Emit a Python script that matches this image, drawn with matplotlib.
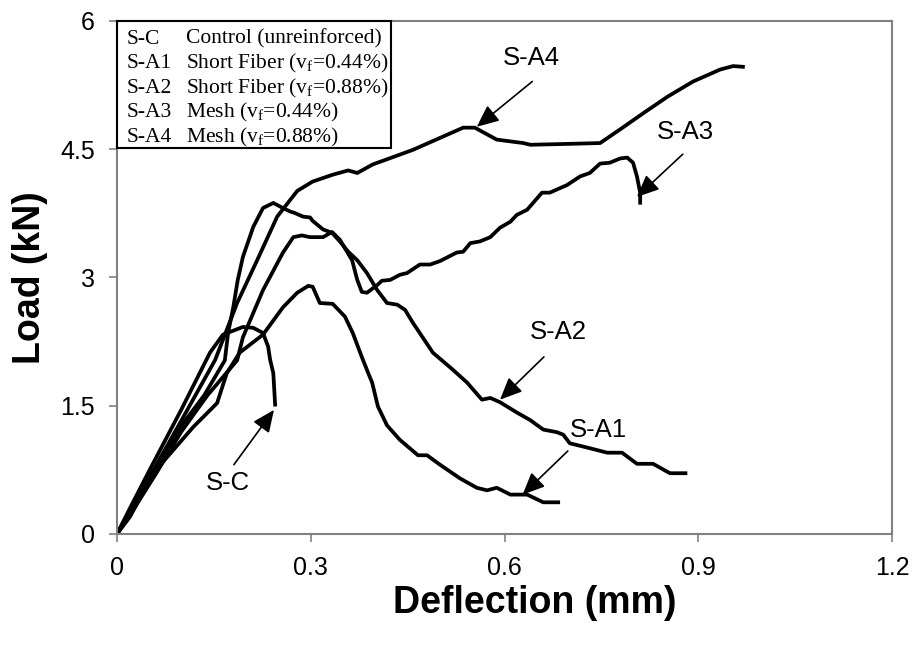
import numpy as np
from matplotlib import pyplot as plt
from matplotlib.patches import Rectangle

plt.rcParams['font.family'] = ['Liberation Sans', 'DejaVu Sans']
plt.rcParams['mathtext.fontset'] = 'custom'
plt.rcParams['mathtext.rm'] = 'Liberation Serif'

# ------ curves (deflection mm, load kN) ------
sc_x = [0, 0.02, 0.05, 0.10, 0.144, 0.164, 0.195, 0.211, 0.226, 0.234, 0.237, 0.242, 0.245]
sc_y = [0, 0.30, 0.74, 1.46, 2.12, 2.33, 2.42, 2.41, 2.35, 2.19, 2.04, 1.88, 1.49]

a1_x = [0, 0.02, 0.056, 0.118, 0.155, 0.170, 0.190, 0.226, 0.257, 0.279, 0.296, 0.303, 0.314,
        0.334, 0.353, 0.365, 0.379, 0.389, 0.395, 0.404, 0.418, 0.438, 0.466, 0.480, 0.500,
        0.531, 0.557, 0.573, 0.588, 0.609, 0.635, 0.660, 0.686]
a1_y = [0, 0.20, 0.71, 1.25, 1.53, 1.88, 2.12, 2.33, 2.65, 2.82, 2.90, 2.89, 2.70,
        2.69, 2.54, 2.35, 2.07, 1.88, 1.77, 1.49, 1.27, 1.10, 0.92, 0.92, 0.81,
        0.65, 0.54, 0.51, 0.54, 0.46, 0.46, 0.37, 0.37]

a2_x = [0, 0.02, 0.06, 0.10, 0.135, 0.167, 0.172, 0.180, 0.187, 0.195, 0.211, 0.226, 0.242,
        0.257, 0.268, 0.276, 0.288, 0.299, 0.303, 0.319, 0.333, 0.345, 0.358, 0.372, 0.387,
        0.403, 0.418, 0.434, 0.446, 0.458, 0.474, 0.489, 0.520, 0.542, 0.565, 0.578, 0.593,
        0.619, 0.640, 0.660, 0.681, 0.691, 0.701, 0.728, 0.759, 0.782, 0.805, 0.830, 0.856, 0.883]
a2_y = [0, 0.24, 0.74, 1.27, 1.62, 2.03, 2.35, 2.65, 2.97, 3.24, 3.59, 3.81, 3.87,
        3.81, 3.77, 3.75, 3.71, 3.70, 3.66, 3.56, 3.52, 3.42, 3.30, 3.20, 3.05,
        2.85, 2.70, 2.68, 2.62, 2.47, 2.29, 2.12, 1.92, 1.77, 1.57, 1.59, 1.54,
        1.42, 1.33, 1.22, 1.19, 1.16, 1.06, 1.01, 0.95, 0.95, 0.82, 0.82, 0.71, 0.71]

a3_x = [0, 0.02, 0.06, 0.10, 0.14, 0.186, 0.195, 0.226, 0.257, 0.273, 0.286, 0.299, 0.319,
        0.333, 0.345, 0.364, 0.372, 0.379, 0.387, 0.403, 0.410, 0.423, 0.438, 0.449, 0.469,
        0.485, 0.500, 0.526, 0.536, 0.547, 0.562, 0.578, 0.593, 0.609, 0.619, 0.635, 0.658,
        0.670, 0.697, 0.717, 0.732, 0.748, 0.763, 0.779, 0.790, 0.799, 0.805, 0.810, 0.810]
a3_y = [0, 0.22, 0.70, 1.20, 1.62, 2.03, 2.30, 2.85, 3.29, 3.47, 3.49, 3.47, 3.47,
        3.53, 3.44, 3.20, 2.97, 2.83, 2.82, 2.91, 2.96, 2.97, 3.03, 3.05, 3.15,
        3.15, 3.19, 3.29, 3.30, 3.40, 3.42, 3.47, 3.58, 3.65, 3.73, 3.79, 3.99,
        3.99, 4.08, 4.18, 4.22, 4.33, 4.34, 4.39, 4.40, 4.34, 4.18, 3.99, 3.85]

a4_x = [0, 0.02, 0.05, 0.10, 0.152, 0.186, 0.217, 0.248, 0.279, 0.303, 0.334, 0.358, 0.372,
        0.396, 0.458, 0.536, 0.554, 0.588, 0.629, 0.640, 0.697, 0.748, 0.779, 0.815, 0.852,
        0.892, 0.934, 0.954, 0.972]
a4_y = [0, 0.26, 0.66, 1.33, 2.035, 2.70, 3.20, 3.71, 4.01, 4.12, 4.20, 4.25, 4.22,
        4.32, 4.49, 4.75, 4.75, 4.61, 4.57, 4.55, 4.56, 4.57, 4.73, 4.92, 5.11,
        5.29, 5.43, 5.47, 5.46]

# arrow labels: text, label position, arrow tail, arrow tip
labels = ['S-C', 'S-A1', 'S-A2', 'S-A3', 'S-A4']
label_pos = [(0.172, 0.60), (0.745, 1.22), (0.684, 2.36), (0.880, 4.70), (0.642, 5.56)]
arrow_tail = [(0.181, 0.81), (0.698, 0.97), (0.661, 2.07), (0.876, 4.44), (0.643, 5.29)]
arrow_tip = [(0.243, 1.45), (0.628, 0.46), (0.593, 1.57), (0.805, 3.94), (0.557, 4.76)]

legend_ids = ['S-C', 'S-A1', 'S-A2', 'S-A3', 'S-A4']
legend_desc = ['Control (unreinforced)',
               r'Short Fiber (v$_\mathrm{f}$=0.44%)',
               r'Short Fiber (v$_\mathrm{f}$=0.88%)',
               r'Mesh (v$_\mathrm{f}$=0.44%)',
               r'Mesh (v$_\mathrm{f}$=0.88%)']

fig = plt.figure(figsize=(9.14, 6.48), dpi=100)
ax = fig.add_axes([0.128, 0.176, 0.848, 0.792])

for xs, ys in [(sc_x, sc_y), (a1_x, a1_y), (a2_x, a2_y), (a3_x, a3_y), (a4_x, a4_y)]:
    ax.plot(xs, ys, color='black', lw=2.7, solid_joinstyle='round', solid_capstyle='butt')

for t, lp, tail, tip in zip(labels, label_pos, arrow_tail, arrow_tip):
    ax.annotate('', xy=tip, xytext=tail,
                arrowprops=dict(arrowstyle='-|>,head_length=0.45,head_width=0.2',
                                color='black', lw=1.2, mutation_scale=30,
                                shrinkA=0, shrinkB=0))
    ax.text(lp[0], lp[1], t, ha='center', va='center', fontsize=18.5)

ax.set_xlim(0, 1.2)
ax.set_ylim(0, 6)
ax.set_xticks([0, 0.3, 0.6, 0.9, 1.2])
ax.set_xticklabels(['0', '0.3', '0.6', '0.9', '1.2'])
ax.set_yticks([0, 1.5, 3, 4.5, 6])
ax.set_yticklabels(['0', '1.5', '3', '4.5', '6'])
for s in ax.spines.values():
    s.set_color('#808080')
    s.set_linewidth(1.5)
ax.tick_params(direction='out', length=6, width=1.2, color='#808080', labelsize=18, pad=10)

ax.set_xlabel('Deflection (mm)', fontsize=27, fontweight='bold')
ax.xaxis.set_label_coords(0.539, -0.099)
ax.set_ylabel('Load (kN)', fontsize=27, fontweight='bold', labelpad=9)

# legend box in the top left corner
ax.add_patch(Rectangle((0, 4.515), 0.424, 1.485, transform=ax.transData, fill=False,
                       edgecolor='black', lw=1.5, zorder=5, clip_on=False))
for i, (lid, desc) in enumerate(zip(legend_ids, legend_desc)):
    yy = 5.785 - i * 0.2866
    ax.text(0.0155, yy, lid, family='Liberation Serif', fontsize=15.5, va='center')
    ax.text(0.107, yy, desc, family='Liberation Serif', fontsize=15.5, va='center')

fig.savefig('out.png', dpi=100)
